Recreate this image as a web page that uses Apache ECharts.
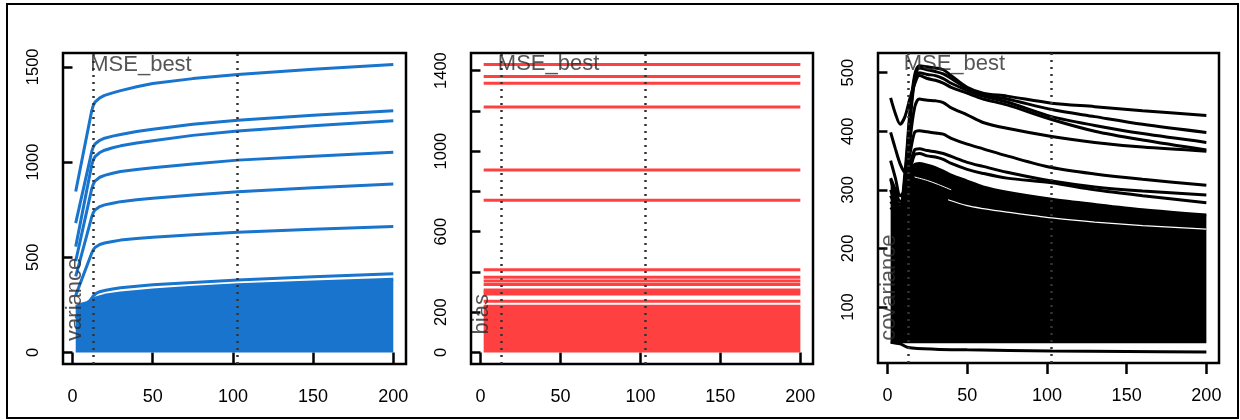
<!DOCTYPE html>
<html>
<head>
<meta charset="utf-8">
<script src="https://cdn.jsdelivr.net/npm/echarts@6/dist/echarts.min.js"></script>
<style>
html,body{margin:0;padding:0;background:#fff;}
#chart{width:1240px;height:420px;}
</style>
</head>
<body>
<div id="chart"></div>
<script>
// ---------------- DATA ----------------
const xTicks = [0, 50, 100, 150, 200];
const y1Ticks = [0, 500, 1000, 1500];
const y2Ticks = [0, 200, 400, 600, 800, 1000, 1200, 1400];
const y2Labels = [0, 200, 600, 1000, 1400];
const y3Ticks = [100, 200, 300, 400, 500];
const mseBestX = [13, 103];

// Panel 1: variance
const X1 = [2, 12, 13, 14, 15, 17, 20, 25, 30, 40, 50, 75, 103, 150, 200];
const variance1 = [845, 1270, 1298, 1314, 1324, 1337, 1350, 1363, 1375, 1395, 1412, 1438, 1460, 1487, 1512];
const variance2 = [679, 1055, 1080, 1095, 1104, 1114, 1125, 1136, 1145, 1160, 1172, 1198, 1220, 1245, 1269];
const variance3 = [556, 985, 1012, 1028, 1038, 1050, 1062, 1075, 1085, 1100, 1112, 1140, 1163, 1190, 1217];
const variance4 = [480, 860, 885, 900, 908, 920, 930, 941, 950, 961, 970, 990, 1010, 1030, 1051];
const variance5 = [400, 712, 735, 748, 756, 766, 775, 784, 792, 802, 810, 827, 844, 865, 885];
const variance6 = [300, 522, 540, 551, 558, 567, 575, 583, 590, 598, 605, 618, 631, 647, 661];
const variance7 = [180, 285, 298, 306, 312, 319, 325, 333, 340, 348, 355, 368, 381, 397, 413];
const XB1 = [2, 6, 9, 12, 13, 15, 20, 30, 50, 75, 103, 150, 200];
const varianceBandTop = [240, 255, 262, 275, 282, 288, 300, 312, 328, 342, 355, 370, 385];

// Panel 2: bias (constant over x)
const X2 = [2, 200];
const biasLevels = [1430, 1370, 1337, 1219, 906, 756, 411, 373, 355, 337, 310, 300, 290, 254];
const biasBandTop = 230;

// Panel 3: covariance
const X3 = [2, 5, 8, 11, 14, 17, 20, 25, 30, 35, 40, 50, 60, 75, 103, 130, 160, 200];
const cov1 = [300, 280, 275, 330, 430, 495, 512, 510, 508, 505, 495, 475, 465, 460, 448, 442, 435, 427];
const cov2 = [290, 275, 270, 320, 420, 490, 508, 505, 502, 498, 490, 473, 462, 455, 437, 425, 412, 398];
const cov3 = [280, 270, 265, 310, 410, 485, 500, 497, 495, 490, 482, 470, 460, 450, 425, 410, 396, 381];
const cov4 = [457, 430, 412, 425, 455, 480, 495, 490, 487, 482, 475, 465, 455, 445, 420, 400, 385, 368];
const cov5 = [270, 262, 258, 290, 380, 440, 455, 453, 452, 449, 440, 428, 415, 405, 391, 381, 373, 366];
const cov6 = [398, 370, 344, 330, 360, 398, 401, 399, 397, 395, 388, 378, 370, 358, 338, 327, 318, 308];
const cov7 = [350, 320, 290, 300, 340, 368, 370, 367, 365, 362, 357, 347, 340, 330, 315, 305, 298, 291];
const cov8 = [320, 300, 280, 290, 330, 360, 362, 358, 356, 352, 345, 335, 328, 320, 312, 300, 290, 278];
const covBandTop = [318, 290, 265, 285, 325, 343, 345, 342, 338, 332, 325, 315, 305, 296, 284, 275, 266, 257];
const covBandBottom = 38;
const covGapX = [38, 50, 60, 75, 103, 130, 160, 200];
const covGap = [283, 273, 268, 262, 252, 245, 239, 233];
const covGap2X = [17, 25, 32, 40];
const covGap2 = [322, 316, 309, 300];
const covLowX = [2, 8, 13, 30, 50, 103, 150, 200];
const covLow = [40, 37, 31, 28, 27, 25, 24, 23];

// Annotations
const panelNames = ['variance', 'bias', 'covariance'];
const nameX = [1.5, 1, 1];
const nameY = [279, 190, 133];
const mseLabelX = [42.7, 42.6, 42];
const mseLabelY = [1512, 1432, 515];

// ---------------- STYLE / BUILD ----------------
const BLUE = '#1874CD', RED = '#FF4040', BLACK = '#000000';
const FONT = 'Liberation Sans, Arial, Helvetica, sans-serif';
const LW = 3;
const zip = (xs, ys) => xs.map((x, i) => [x, ys[i]]);

const grids = [
  {left: 63, top: 53, width: 343, height: 311},
  {left: 471, top: 53, width: 342, height: 311},
  {left: 878, top: 53, width: 341, height: 310}
].map(g => Object.assign(g, {show: true, borderColor: '#000', borderWidth: 2.5, backgroundColor: 'transparent', containLabel: false}));

const yRanges = [[-60.5, 1572.5], [-57.2, 1487.2], [4.4, 533.6]];
const yTickSets = [y1Ticks, y2Ticks, y3Ticks];
const yLabelSets = [y1Ticks, y2Labels, y3Ticks];
const plain = v => String(Math.round(v));

const xAxes = [0, 1, 2].map(i => ({
  type: 'value', gridIndex: i, min: -5.92, max: 207.92,
  axisLine: {show: false}, splitLine: {show: false},
  axisTick: {show: true, customValues: xTicks, length: 11, lineStyle: {color: '#000', width: 2.5}},
  axisLabel: {show: true, customValues: xTicks, formatter: plain, fontSize: 18, color: '#000', fontFamily: FONT, margin: 24}
}));
const yAxes = [0, 1, 2].map(i => ({
  type: 'value', gridIndex: i, min: yRanges[i][0], max: yRanges[i][1],
  axisLine: {show: false}, splitLine: {show: false},
  axisTick: {show: true, customValues: yTickSets[i], length: 10, lineStyle: {color: '#000', width: 2.5}},
  axisLabel: {show: true, customValues: yLabelSets[i], formatter: plain, rotate: 90, fontSize: 16.5, color: '#000', fontFamily: FONT, margin: 21}
}));

const series = [];
function line(i, data, color, extra) {
  series.push(Object.assign({
    type: 'line', xAxisIndex: i, yAxisIndex: i, data: data, symbol: 'none',
    smooth: false, silent: true, clip: true,
    lineStyle: {color: color, width: LW}, z: 2
  }, extra || {}));
}

// Panel 1
line(0, zip(XB1, varianceBandTop), BLUE, {areaStyle: {color: BLUE, origin: 0, opacity: 1}});
[variance1, variance2, variance3, variance4, variance5, variance6, variance7].forEach(v => line(0, zip(X1, v), BLUE));

// Panel 2
line(1, X2.map(x => [x, biasBandTop]), RED, {areaStyle: {color: RED, origin: 0, opacity: 1}});
biasLevels.forEach(b => line(1, X2.map(x => [x, b]), RED));

// Panel 3
line(2, zip(X3, covBandTop), BLACK, {smooth: 0.3, areaStyle: {color: BLACK, origin: covBandBottom, opacity: 1}});
line(2, zip(covGapX, covGap), '#ffffff', {smooth: 0.3, lineStyle: {color: '#ffffff', width: 1.2}, z: 3});
line(2, zip(covGap2X, covGap2), '#ffffff', {smooth: 0.3, lineStyle: {color: '#ffffff', width: 1}, z: 3});
[cov1, cov2, cov3, cov4, cov5, cov6, cov7, cov8].forEach(v => line(2, zip(X3, v), BLACK, {smooth: 0.3}));
line(2, zip(covLowX, covLow), BLACK, {smooth: 0.3});

// dotted vertical lines + annotations
[0, 1, 2].forEach(i => {
  series.push({
    type: 'line', xAxisIndex: i, yAxisIndex: i, data: [], silent: true, z: 8,
    markLine: {
      silent: true, symbol: ['none', 'none'], animation: false,
      label: {show: false},
      lineStyle: {color: '#333333', width: 2.5, type: [2, 5]},
      data: mseBestX.map(x => ({xAxis: x}))
    }
  });
  series.push({
    type: 'scatter', xAxisIndex: i, yAxisIndex: i, silent: true, z: 10,
    symbolSize: 1, itemStyle: {color: 'rgba(0,0,0,0)'},
    data: [{value: [mseLabelX[i], mseLabelY[i]], label: {formatter: 'MSE_best', rotate: 0}},
           {value: [nameX[i], nameY[i]], label: {formatter: panelNames[i], rotate: 90}}],
    label: {show: true, position: 'inside', align: 'center', verticalAlign: 'middle',
            fontSize: 22, color: '#2a2a2a', fontFamily: FONT}
  });
});

const chart = echarts.init(document.getElementById('chart'), null, {renderer: 'canvas'});
chart.setOption({
  animation: false,
  backgroundColor: '#ffffff',
  grid: grids,
  xAxis: xAxes,
  yAxis: yAxes,
  series: series,
  graphic: [{
    type: 'rect', silent: true, z: 100,
    shape: {x: 7, y: 4, width: 1231, height: 414},
    style: {fill: 'none', stroke: '#000', lineWidth: 2}
  }]
});
</script>
</body>
</html>
